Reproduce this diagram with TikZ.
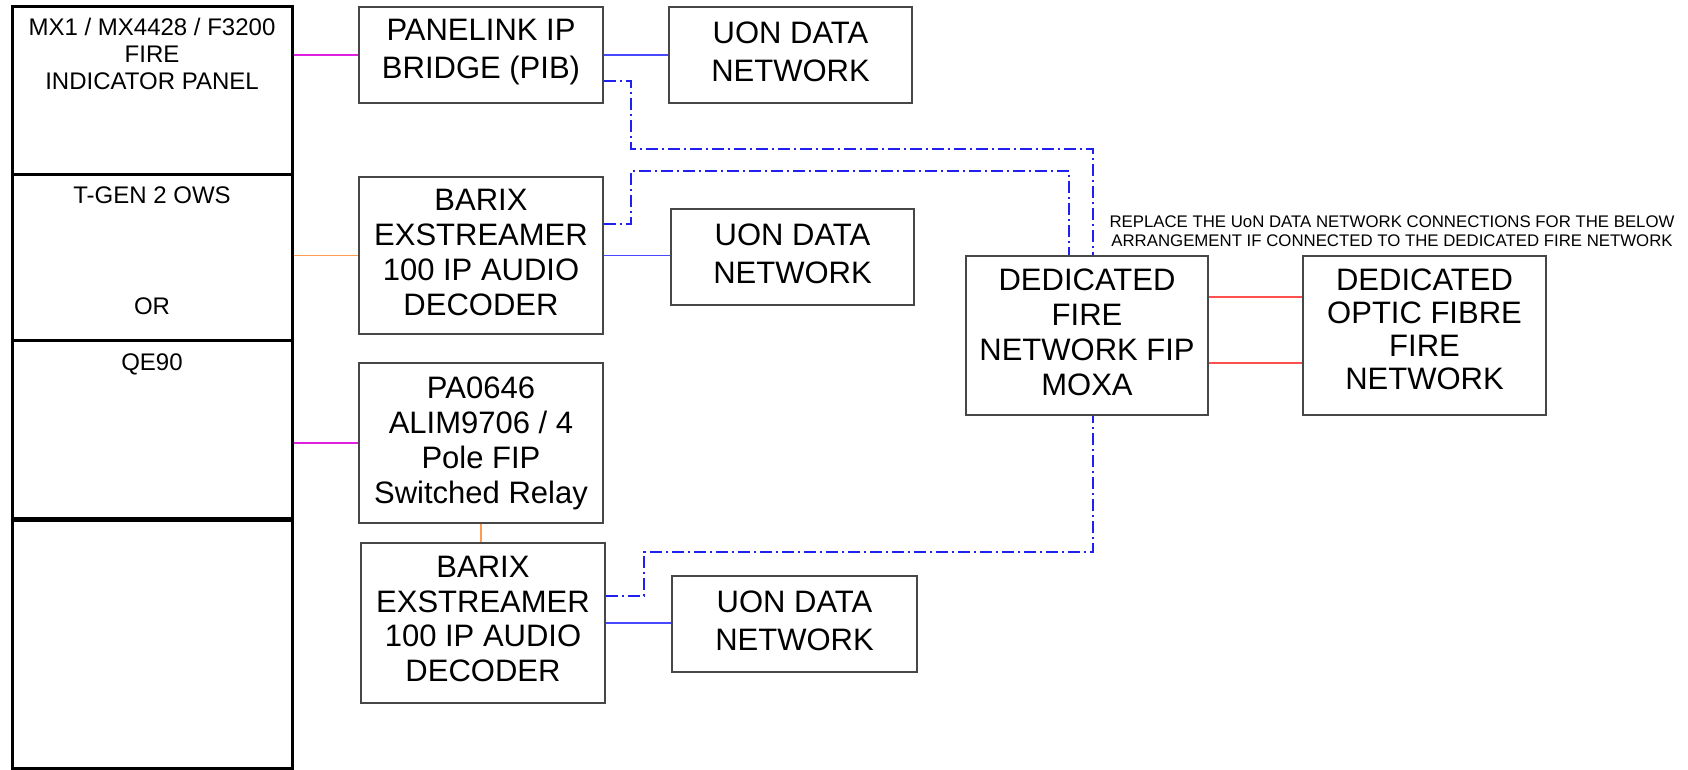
\documentclass[tikz,border=0pt]{standalone}
\usepackage{fontspec}
\setmainfont{Liberation Sans}
\definecolor{pinkl}{HTML}{E020E0}
\definecolor{orangel}{HTML}{FF9A50}
\definecolor{bluel}{HTML}{4848FF}
\definecolor{blued}{HTML}{2020F0}
\definecolor{redl}{HTML}{FF5050}
\begin{document}
\begin{tikzpicture}[x=1pt,y=-1pt,
  box/.style={draw=black!72, line width=1.3pt, inner sep=0pt},
  bt/.style={inner sep=0pt, align=center, font=\fontsize{31}{35}\selectfont},
  bt2/.style={inner sep=0pt, align=center, font=\fontsize{31}{37.5}\selectfont},
  sec/.style={draw=black, line width=3pt, minimum width=280pt, inner sep=0pt},
  lbl/.style={font=\fontsize{24}{27}\selectfont, align=center, inner sep=0pt},
  note/.style={font=\fontsize{16.8}{19}\selectfont, align=center, inner sep=0pt},
  dd/.style={blued, line width=1.4pt, dash pattern=on 12pt off 4pt on 2pt off 4pt},
  pk/.style={pinkl, line width=1.1pt},
  og/.style={orangel, line width=1.2pt},
  bl/.style={bluel, line width=1.2pt},
  rd/.style={redl, line width=1.4pt}]
\useasboundingbox (0,0) rectangle (1688,770);
% left panel sections
\node[sec, minimum height=168pt] (sec1) at (152,91) {};
\node[sec, minimum height=165pt] (sec2) at (152,257.5) {};
\node[sec, minimum height=178pt] (sec3) at (152,429) {};
\node[sec, minimum height=250pt] (sec4) at (152,643) {};
\draw[line width=4pt] (sec3.south west) -- (sec3.south east);
\node[lbl] (t1) at (152,54) {MX1 / MX4428 / F3200\\FIRE\\INDICATOR PANEL};
\node[lbl] (t2) at (152,195) {T-GEN 2 OWS};
\node[lbl] (t3) at (152,306) {OR};
\node[lbl] (t4) at (152,364) {QE90};
% boxes
\node[box, minimum width=244pt, minimum height=96pt] (pib) at (481,55) {};
\node[bt2, yshift=3pt] (pibT) at (pib) {PANELINK IP\\BRIDGE (PIB)};
\node[box, minimum width=243pt, minimum height=96pt] (uon1) at (790.5,55) {};
\node[bt2, yshift=3pt] (uon1T) at (uon1) {UON DATA\\NETWORK};
\node[box, minimum width=244pt, minimum height=157pt] (bar1) at (481,255.5) {};
\node[bt, yshift=3pt] (bar1T) at (bar1) {BARIX\\EXSTREAMER\\100 IP AUDIO\\DECODER};
\node[box, minimum width=243pt, minimum height=96pt] (uon2) at (792.5,257) {};
\node[bt2, yshift=3pt] (uon2T) at (uon2) {UON DATA\\NETWORK};
\node[box, minimum width=244pt, minimum height=160pt] (relay) at (481,443) {};
\node[bt] (relayT) at (relay) {PA0646\\ALIM9706 / 4\\Pole FIP\\Switched Relay};
\node[box, minimum width=244pt, minimum height=160pt] (bar2) at (483,623) {};
\node[bt, yshift=4pt, font=\fontsize{31}{34.5}\selectfont] (bar2T) at (bar2) {BARIX\\EXSTREAMER\\100 IP AUDIO\\DECODER};
\node[box, minimum width=245pt, minimum height=96pt] (uon3) at (794.5,624) {};
\node[bt2, yshift=3pt] (uon3T) at (uon3) {UON DATA\\NETWORK};
\node[box, minimum width=242pt, minimum height=159pt] (moxa) at (1087,335.5) {};
\node[bt, yshift=3pt] (moxaT) at (moxa) {DEDICATED\\FIRE\\NETWORK FIP\\MOXA};
\node[box, minimum width=243pt, minimum height=159pt] (optic) at (1424.5,335.5) {};
\node[bt, yshift=6.5pt, font=\fontsize{31}{33}\selectfont] (opticT) at (optic) {DEDICATED\\OPTIC FIBRE\\FIRE\\NETWORK};
\node[note] (nt) at (1392,231) {REPLACE THE UoN DATA NETWORK CONNECTIONS FOR THE BELOW\\ARRANGEMENT IF CONNECTED TO THE DEDICATED FIRE NETWORK};
% solid connectors
\draw[pk] (pib.west) -- (pib.west -| sec1.east);
\draw[og] (bar1.west) -- (bar1.west -| sec2.east);
\draw[pk] (relay.west) -- (relay.west -| sec3.east);
\draw[og] (relay.south) -- (relay.south |- bar2.north);
\draw[bl] (pib.east) -- (uon1.west);
\draw[bl] (bar1.east) -- (bar1.east -| uon2.west);
\draw[bl] (bar2.east) -- (bar2.east -| uon3.west);
\draw[rd] ([yshift=38.5pt]moxa.east) -- ([yshift=38.5pt]optic.west);
\draw[rd] ([yshift=-27.5pt]moxa.east) -- ([yshift=-27.5pt]optic.west);
% dash-dot connectors
\coordinate (k1) at (631,149);
\coordinate (k2) at (631,171);
\coordinate (k3) at (644,552);
\draw[dd] ([yshift=-26pt]pib.east) -| (k1) -| ([xshift=6pt]moxa.north);
\draw[dd] ([yshift=31.5pt]bar1.east) -| (k2) -| ([xshift=-18pt]moxa.north);
\draw[dd] ([yshift=27pt]bar2.east) -| (k3) -| ([xshift=6pt]moxa.south);
\end{tikzpicture}
\end{document}
